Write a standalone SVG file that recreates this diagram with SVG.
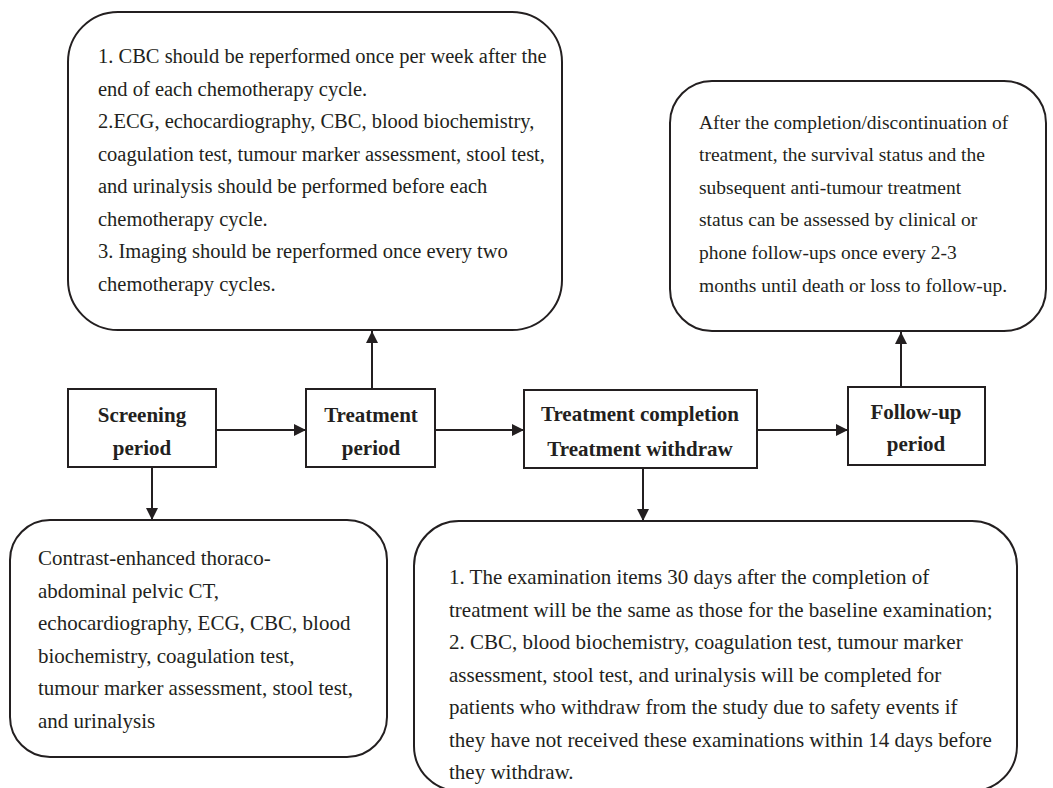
<svg xmlns="http://www.w3.org/2000/svg" width="1053" height="788" viewBox="0 0 1053 788">
<defs>
<style>
.rbox{fill:#fff;stroke:#231f20;stroke-width:2}
.box{fill:#fff;stroke:#231f20;stroke-width:2}
.t{font-family:"Liberation Serif","Times New Roman",serif;font-size:20.5px;fill:#231f20}
.s{font-size:19.5px}
.l{font-size:21px}
.b{font-family:"Liberation Serif","Times New Roman",serif;font-size:21px;font-weight:bold;fill:#231f20;text-anchor:middle}
.c{stroke:#231f20;stroke-width:2;fill:none;marker-end:url(#ah)}
</style>
<marker id="ah" viewBox="0 0 10 10" refX="10" refY="5" markerWidth="6" markerHeight="6" markerUnits="strokeWidth" orient="auto">
<path d="M0,0 L10,5 L0,10 Z" fill="#231f20"/>
</marker>
</defs>
<rect width="1053" height="788" fill="#fff"/>

<g id="treatment-notes">
<rect class="rbox" x="68" y="12" width="494" height="318" rx="50" ry="50"/>
<text class="t" x="98" y="63">1. CBC should be reperformed once per week after the</text>
<text class="t" x="98" y="96">end of each chemotherapy cycle.</text>
<text class="t" x="98" y="128">2.ECG, echocardiography, CBC, blood biochemistry,</text>
<text class="t" x="98" y="161">coagulation test, tumour marker assessment, stool test,</text>
<text class="t" x="98" y="193">and urinalysis should be performed before each</text>
<text class="t" x="98" y="226">chemotherapy cycle.</text>
<text class="t" x="98" y="258">3. Imaging should be reperformed once every two</text>
<text class="t" x="98" y="291">chemotherapy cycles.</text>
</g>

<g id="followup-notes">
<rect class="rbox" x="670" y="81" width="376" height="250" rx="42" ry="42"/>
<text class="t s" x="699" y="129">After the completion/discontinuation of</text>
<text class="t s" x="699" y="161">treatment, the survival status and the</text>
<text class="t s" x="699" y="194">subsequent anti-tumour treatment</text>
<text class="t s" x="699" y="226">status can be assessed by clinical or</text>
<text class="t s" x="699" y="259">phone follow-ups once every 2-3</text>
<text class="t s" x="699" y="292">months until death or loss to follow-up.</text>
</g>

<g id="screening">
<rect class="box" x="68" y="389" width="148" height="78"/>
<text class="b" x="142" y="422">Screening</text>
<text class="b" x="142" y="455">period</text>
</g>

<g id="treatment">
<rect class="box" x="306" y="389" width="129" height="78"/>
<text class="b" x="371" y="422">Treatment</text>
<text class="b" x="371" y="455">period</text>
</g>

<g id="completion">
<rect class="box" x="524" y="390" width="233" height="78"/>
<text class="b" x="640" y="421">Treatment completion</text>
<text class="b" x="640" y="456">Treatment withdraw</text>
</g>

<g id="followup">
<rect class="box" x="848" y="387" width="137" height="78"/>
<text class="b" x="916" y="419">Follow-up</text>
<text class="b" x="916" y="451">period</text>
</g>

<g id="screening-notes">
<rect class="rbox" x="10" y="520" width="377" height="237" rx="40" ry="40"/>
<text class="t l" x="38" y="565">Contrast-enhanced thoraco-</text>
<text class="t l" x="38" y="598">abdominal pelvic CT,</text>
<text class="t l" x="38" y="630">echocardiography, ECG, CBC, blood</text>
<text class="t l" x="38" y="663">biochemistry, coagulation test,</text>
<text class="t l" x="38" y="695">tumour marker assessment, stool test,</text>
<text class="t l" x="38" y="728">and urinalysis</text>
</g>

<g id="completion-notes">
<rect class="rbox" x="414" y="521" width="603" height="270" rx="45" ry="45"/>
<text class="t l" x="449" y="584">1. The examination items 30 days after the completion of</text>
<text class="t l" x="449" y="617">treatment will be the same as those for the baseline examination;</text>
<text class="t l" x="449" y="649">2. CBC, blood biochemistry, coagulation test, tumour marker</text>
<text class="t l" x="449" y="682">assessment, stool test, and urinalysis will be completed for</text>
<text class="t l" x="449" y="714">patients who withdraw from the study due to safety events if</text>
<text class="t l" x="449" y="747">they have not received these examinations within 14 days before</text>
<text class="t l" x="449" y="779">they withdraw.</text>
</g>

<g id="connectors">
<line class="c" x1="216" y1="430" x2="306" y2="430"/>
<line class="c" x1="435" y1="430" x2="524" y2="430"/>
<line class="c" x1="757" y1="430" x2="848" y2="430"/>
<line class="c" x1="372" y1="389" x2="372" y2="331"/>
<line class="c" x1="901" y1="387" x2="901" y2="332"/>
<line class="c" x1="152" y1="467" x2="152" y2="520"/>
<line class="c" x1="643" y1="468" x2="643" y2="521"/>
</g>
</svg>
